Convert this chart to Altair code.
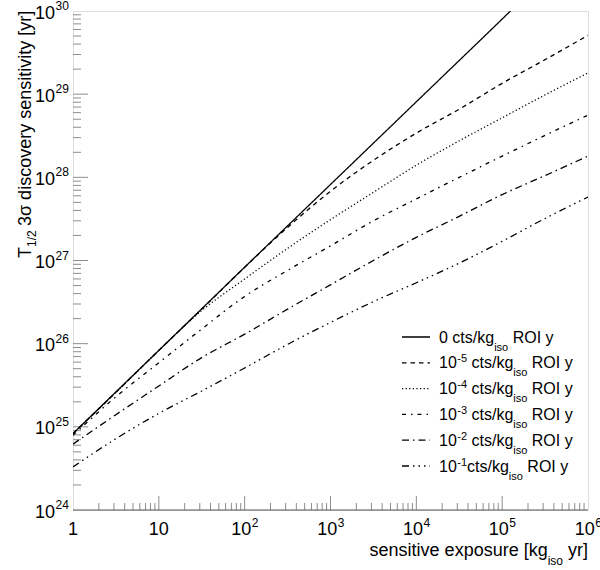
import altair as alt
import pandas as pd

# ---------------- data ----------------
series_names = ["0 cts", "1e-5", "1e-4", "1e-3", "1e-2", "1e-1"]
exposure = [1, 3.16, 10, 31.6, 100, 316, 1e3, 3.16e3, 1e4, 3.16e4, 1e5, 3.16e5, 1e6]
zero_exposure = [1, 10, 100, 1e3, 1e4, 1e5, 1.25e5]
t_zero = [8.3e24, 8.3e25, 8.3e26, 8.2e27, 8.1e28, 8.0e29, 1.0e30]
t_1e5 = [8.3e24, 2.6e25, 8.3e25, 2.6e26, 8.3e26, 2.5e27, 6.8e27, 1.6e28, 3.4e28, 6.6e28, 1.35e29, 2.6e29, 5.1e29]
t_1e4 = [8.3e24, 2.6e25, 8.3e25, 2.5e26, 6.0e26, 1.4e27, 3.1e27, 6.6e27, 1.4e28, 2.75e28, 5.2e28, 9.8e28, 1.8e29]
t_1e3 = [7.9e24, 2.3e25, 5.9e25, 1.5e26, 3.7e26, 7.6e26, 1.5e27, 3.0e27, 5.5e27, 1.0e28, 1.8e28, 3.2e28, 5.6e28]
t_1e2 = [6.2e24, 1.4e25, 3.1e25, 6.8e25, 1.3e26, 2.6e26, 5.1e26, 1.0e27, 1.9e27, 3.4e27, 6.2e27, 1.05e28, 1.8e28]
t_1e1 = [3.3e24, 7.2e24, 1.45e25, 2.7e25, 5.1e25, 9.8e25, 1.8e26, 3.2e26, 5.4e26, 9.3e26, 1.7e27, 3.2e27, 5.8e27]

legend_exponents = ["", "-5", "-4", "-3", "-2", "-1"]

x_major = [1, 10, 100, 1e3, 1e4, 1e5, 1e6]
x_plain_labels = ["1", "10"]
x_exp_values = [100, 1e3, 1e4, 1e5, 1e6]
x_exp_labels = ["2", "3", "4", "5", "6"]
y_major = [1e24, 1e25, 1e26, 1e27, 1e28, 1e29, 1e30]
y_exp_labels = ["24", "25", "26", "27", "28", "29", "30"]
x_minor = [m * 10 ** k for k in range(0, 6) for m in range(2, 10)]
y_minor = [m * 10.0 ** k for k in range(24, 30) for m in range(2, 10)]

# ---------------- layout ----------------
W, H = 515, 499
FONT = "Liberation Sans"
dashes = [[1, 0], [4.5, 4], [1.2, 2.4], [4, 5, 1.5, 5], [7, 4, 1.5, 4], [7, 4, 1.5, 4, 1.5, 4, 1.5, 4]]

ARIAL = {' ': 278, '-': 333, '/': 278, '[': 278, ']': 278, 'R': 722, 'O': 778, 'I': 278, 'T': 611,
         'a': 556, 'c': 500, 'd': 556, 'e': 556, 'g': 556, 'i': 222, 'k': 500, 'n': 556, 'o': 556,
         'p': 556, 'r': 333, 's': 500, 't': 278, 'u': 556, 'v': 500, 'x': 500, 'y': 500, 'σ': 600}


def tw(s, size):
    return sum(ARIAL.get(c, 556) for c in s) * size / 1000.0


rows = [dict(exposure=x, T=t, series=series_names[0]) for x, t in zip(zero_exposure, t_zero)]
for name, vals in zip(series_names[1:], [t_1e5, t_1e4, t_1e3, t_1e2, t_1e1]):
    rows += [dict(exposure=x, T=t, series=name) for x, t in zip(exposure, vals)]
df = pd.DataFrame(rows)

xs = alt.Scale(type="log", domain=[1, 1e6], nice=False)
ys = alt.Scale(type="log", domain=[1e24, 1e30], nice=False)
dash_scale = alt.Scale(domain=series_names, range=dashes)

lines = alt.Chart(df).mark_line(clip=True, interpolate="monotone", color="black", strokeWidth=1.3).encode(
    x=alt.X("exposure:Q", scale=xs, axis=None),
    y=alt.Y("T:Q", scale=ys, axis=None),
    strokeDash=alt.StrokeDash("series:N", scale=dash_scale, legend=None),
)

tick_col = "#8c8c8c"
xmaj = alt.Chart(pd.DataFrame({"v": x_major[1:-1]})).mark_rule(color=tick_col).encode(
    x=alt.X("v:Q", scale=xs, axis=None), y=alt.value(H), y2=alt.value(H - 14))
xmin = alt.Chart(pd.DataFrame({"v": x_minor})).mark_rule(color=tick_col).encode(
    x=alt.X("v:Q", scale=xs, axis=None), y=alt.value(H), y2=alt.value(H - 7))
ymaj = alt.Chart(pd.DataFrame({"v": y_major[1:-1]})).mark_rule(color=tick_col).encode(
    y=alt.Y("v:Q", scale=ys, axis=None), x=alt.value(0), x2=alt.value(15))
ymin = alt.Chart(pd.DataFrame({"v": y_minor})).mark_rule(color=tick_col).encode(
    y=alt.Y("v:Q", scale=ys, axis=None), x=alt.value(0), x2=alt.value(8))
bottom_line = alt.Chart(pd.DataFrame({"a": [0]})).mark_rule(color="#55555f", strokeWidth=1).encode(
    x=alt.value(0), x2=alt.value(W), y=alt.value(H))

# tick labels
xl_plain = alt.Chart(pd.DataFrame({"v": x_major[:2], "t": x_plain_labels})).mark_text(
    font=FONT, fontSize=18, align="center", baseline="alphabetic", color="black").encode(
    x=alt.X("v:Q", scale=xs, axis=None), y=alt.value(H + 25), text="t:N")
dx10 = (tw("10", 18) - tw("2", 12)) / 2
xl_10 = alt.Chart(pd.DataFrame({"v": x_exp_values, "t": ["10"] * len(x_exp_values)})).mark_text(
    font=FONT, fontSize=18, align="right", baseline="alphabetic", color="black", dx=dx10).encode(
    x=alt.X("v:Q", scale=xs, axis=None), y=alt.value(H + 25), text="t:N")
xl_sup = alt.Chart(pd.DataFrame({"v": x_exp_values, "t": x_exp_labels})).mark_text(
    font=FONT, fontSize=12, align="left", baseline="alphabetic", color="black", dx=dx10 + 0.5).encode(
    x=alt.X("v:Q", scale=xs, axis=None), y=alt.value(H + 17), text="t:N")
yl_10 = alt.Chart(pd.DataFrame({"v": y_major, "t": ["10"] * len(y_major)})).mark_text(
    font=FONT, fontSize=18, align="right", baseline="alphabetic", color="black", dy=7.5).encode(
    y=alt.Y("v:Q", scale=ys, axis=None), x=alt.value(-18), text="t:N")
yl_sup = alt.Chart(pd.DataFrame({"v": y_major, "t": y_exp_labels})).mark_text(
    font=FONT, fontSize=12, align="left", baseline="alphabetic", color="black", dy=-1).encode(
    y=alt.Y("v:Q", scale=ys, axis=None), x=alt.value(-17.5), text="t:N")

# titles and legend text pieces (pixel layout)
pieces = []
# y title (rotated)
pieces.append((-42, 247, "T", 18, 270))
pieces.append((-37.5, 236, "1/2", 12, 270))
pieces.append((-42, 215, "3σ discovery sensitivity [yr]", 18, 270))
# x title (right aligned at plot edge)
yr_x = W - tw("yr]", 18)
iso_x = yr_x - tw(" ", 18) - tw("iso", 12)
main_x = iso_x - tw("sensitive exposure [kg", 18)
pieces.append((main_x, H + 46, "sensitive exposure [kg", 18, 0))
pieces.append((iso_x, H + 55, "iso", 12, 0))
pieces.append((yr_x, H + 46, "yr]", 18, 0))
# legend
LX0, LY0, LDY = 366, 326, 25.8
sample_rows = []
for i, e in enumerate(legend_exponents):
    cy = LY0 + i * LDY
    base = cy + 5.5
    x = LX0
    if e == "":
        pieces.append((x, base, "0 cts/kg", 16, 0))
        x += tw("0 cts/kg", 16)
    else:
        pieces.append((x, base, "10", 16, 0))
        x += tw("10", 16)
        pieces.append((x + 0.5, base - 6, e, 11, 0))
        x += tw(e, 11) + 0.5
        if e != "-1":
            x += tw(" ", 16)
        pieces.append((x, base, "cts/kg", 16, 0))
        x += tw("cts/kg", 16)
    pieces.append((x, base + 8, "iso", 11, 0))
    x += tw("iso", 11) + tw(" ", 16)
    pieces.append((x, base, "ROI y", 16, 0))
    sample_rows.append(dict(px=329, px2=357, py=cy, series=series_names[i]))

pdf = pd.DataFrame(pieces, columns=["px", "py", "t", "fs", "ang"])
texts = alt.Chart(pdf).mark_text(font=FONT, align="left", baseline="alphabetic", color="black").encode(
    x=alt.X("px:Q", scale=None, axis=None),
    y=alt.Y("py:Q", scale=None, axis=None),
    size=alt.Size("fs:Q", scale=None, legend=None),
    angle=alt.Angle("ang:Q", scale=None, legend=None),
    text="t:N",
)
samples = alt.Chart(pd.DataFrame(sample_rows)).mark_rule(color="black", strokeWidth=1.3).encode(
    x=alt.X("px:Q", scale=None, axis=None),
    x2="px2:Q",
    y=alt.Y("py:Q", scale=None, axis=None),
    strokeDash=alt.StrokeDash("series:N", scale=dash_scale, legend=None),
)

chart = alt.layer(
    xmin, xmaj, ymin, ymaj, bottom_line, lines, xl_plain, xl_10, xl_sup, yl_10, yl_sup, texts, samples
).properties(
    width=W, height=H,
    autosize=alt.AutoSizeParams(type="none"),
    padding={"left": 73, "top": 11, "right": 12, "bottom": 60},
).configure_view(stroke="#8c8c8c", strokeWidth=1).configure(background="white")

chart.save("out.html", embed_options={"renderer": "svg", "actions": False})
